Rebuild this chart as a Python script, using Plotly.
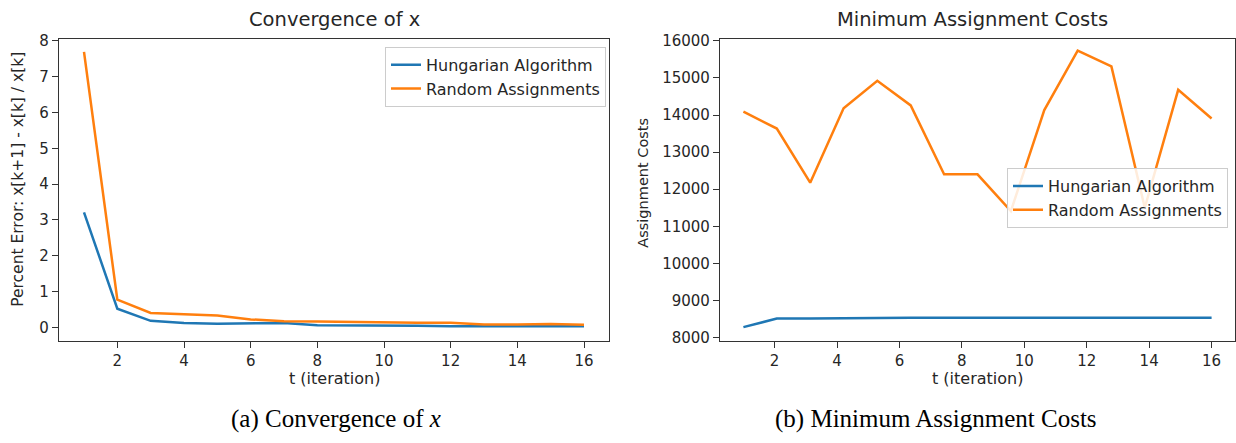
import plotly.graph_objects as go

# ---- data ----
t_left = [1, 2, 3, 4, 5, 6, 7, 8, 9, 10, 11, 12, 13, 14, 15, 16]
hung_left = [3.21, 0.52, 0.18, 0.12, 0.10, 0.10, 0.12, 0.06, 0.06, 0.05, 0.04, 0.03, 0.03, 0.03, 0.03, 0.03]
rand_left = [7.69, 0.77, 0.40, 0.37, 0.33, 0.22, 0.17, 0.16, 0.145, 0.13, 0.125, 0.125, 0.08, 0.08, 0.09, 0.07]

t_right = [1.0, 2.07, 3.14, 4.21, 5.29, 6.36, 7.43, 8.5, 9.57, 10.64, 11.71, 12.79, 13.86, 14.93, 16.0]
hung_right = [8280, 8510, 8510, 8525, 8530, 8535, 8535, 8535, 8535, 8535, 8535, 8535, 8535, 8535, 8535]
rand_right = [14090, 13635, 12175, 14180, 14925, 14260, 12400, 12400, 11410, 14135, 15735, 15310, 11500, 14680, 13905]

left_yticks = [0, 1, 2, 3, 4, 5, 6, 7, 8]
right_yticks = [8000, 9000, 10000, 11000, 12000, 13000, 14000, 15000, 16000]
right_ytick_labels = ["8000", "9000", "10000", "11000", "12000", "13000", "14000", "15000", "16000"]
xticks = [2, 4, 6, 8, 10, 12, 14, 16]

series_names = ["Hungarian Algorithm", "Random Assignments"]
colors = ["#1f77b4", "#ff7f0e"]

W, H = 1236, 443
TXT = "#262626"
FONT = "DejaVu Sans"

def px(x):
    return x / W

def py(y):
    return 1 - y / H

fig = go.Figure()
fig.add_trace(go.Scatter(x=t_left, y=hung_left, mode="lines", name=series_names[0],
                         line=dict(color=colors[0], width=2.5), xaxis="x", yaxis="y", legend="legend"))
fig.add_trace(go.Scatter(x=t_left, y=rand_left, mode="lines", name=series_names[1],
                         line=dict(color=colors[1], width=2.5), xaxis="x", yaxis="y", legend="legend"))
fig.add_trace(go.Scatter(x=t_right, y=hung_right, mode="lines", name=series_names[0],
                         line=dict(color=colors[0], width=2.5), xaxis="x2", yaxis="y2", legend="legend2"))
fig.add_trace(go.Scatter(x=t_right, y=rand_right, mode="lines", name=series_names[1],
                         line=dict(color=colors[1], width=2.5), xaxis="x2", yaxis="y2", legend="legend2"))

axis_common = dict(showline=True, mirror=True, linecolor="#333333", linewidth=1.3,
                   ticks="outside", ticklen=6, tickwidth=1.2, tickcolor="#333333",
                   showgrid=False, zeroline=False,
                   tickfont=dict(family=FONT, size=15, color=TXT))

ydom = [py(344), py(33)]
fig.update_layout(
    width=W, height=H,
    margin=dict(l=0, r=0, t=0, b=0),
    paper_bgcolor="white", plot_bgcolor="white",
    xaxis=dict(domain=[px(59), px(609)], range=[0.25, 16.75], tickvals=xticks,
               anchor="y", **axis_common),
    yaxis=dict(domain=ydom, range=[-0.38, 8.05], tickvals=left_yticks,
               anchor="x", **axis_common),
    xaxis2=dict(domain=[px(720), px(1235)], range=[0.25, 16.75], tickvals=xticks,
                anchor="y2", **axis_common),
    yaxis2=dict(domain=ydom, range=[7908, 16050], tickvals=right_yticks,
                ticktext=right_ytick_labels, anchor="x2", **axis_common),
    legend=dict(x=px(606), y=py(41), xanchor="right", yanchor="top",
                bgcolor="rgba(255,255,255,0.85)", bordercolor="#cccccc", borderwidth=1,
                font=dict(family=FONT, size=16, color=TXT), tracegroupgap=0),
    legend2=dict(x=px(1228), y=py(166), xanchor="right", yanchor="top",
                 bgcolor="rgba(255,255,255,0.85)", bordercolor="#cccccc", borderwidth=1,
                 font=dict(family=FONT, size=16, color=TXT), tracegroupgap=0),
    showlegend=True,
)

annots = [
    dict(text="Convergence of x", x=px(334), y=py(13), size=19.5, font=FONT, angle=0),
    dict(text="Minimum Assignment Costs", x=px(972), y=py(13), size=19.5, font=FONT, angle=0),
    dict(text="t (iteration)", x=px(334), y=py(383), size=16, font=FONT, angle=0),
    dict(text="t (iteration)", x=px(977), y=py(383), size=16, font=FONT, angle=0),
    dict(text="Percent Error: x[k+1] - x[k] / x[k]", x=px(18), y=py(178), size=15.5, font=FONT, angle=-90),
    dict(text="Assignment Costs", x=px(643), y=py(181), size=14.5, font=FONT, angle=-90),
    dict(text="(a) Convergence of <i>x</i>", x=px(336), y=py(424), size=25, font="Liberation Serif", angle=0, color="#000"),
    dict(text="(b) Minimum Assignment Costs", x=px(936), y=py(424), size=25, font="Liberation Serif", angle=0, color="#000"),
]
for a in annots:
    fig.add_annotation(text=a["text"], x=a["x"], y=a["y"], xref="paper", yref="paper",
                       xanchor="center", yanchor="middle", showarrow=False, textangle=a["angle"],
                       font=dict(family=a["font"], size=a["size"], color=a.get("color", TXT)))

fig.write_html("out.html")
